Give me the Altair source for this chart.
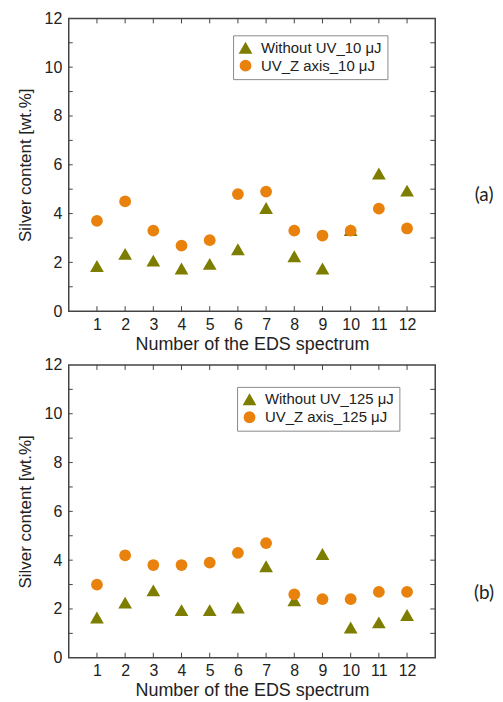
import altair as alt
import pandas as pd

spectra = list(range(1, 13))

# Panel (a)
a_without = [1.85, 2.35, 2.07, 1.75, 1.94, 2.54, 4.23, 2.25, 1.75, 3.32, 5.64, 4.94]
a_uv = [3.70, 4.50, 3.30, 2.69, 2.91, 4.80, 4.90, 3.30, 3.10, 3.30, 4.20, 3.39]
a_labels = ["Without UV_10 \u03bcJ", "UV_Z axis_10 \u03bcJ"]

# Panel (b)
b_without = [1.65, 2.26, 2.76, 1.95, 1.95, 2.06, 3.75, 2.35, 4.25, 1.24, 1.45, 1.75]
b_uv = [3.00, 4.20, 3.80, 3.80, 3.90, 4.30, 4.70, 2.60, 2.40, 2.40, 2.70, 2.70]
b_labels = ["Without UV_125 \u03bcJ", "UV_Z axis_125 \u03bcJ"]

y_major = [0, 2, 4, 6, 8, 10, 12]
y_ticks_all = [1, 2, 3, 4, 5, 6, 7, 8, 9, 10, 11]

OLIVE = "#7d7d00"
ORANGE = "#e8820c"
W, H = 368, 294
FONT = "Arial"
XT = "Number of the EDS spectrum"
YT = "Silver content [wt.%]"

X_AXIS = alt.Axis(values=spectra, grid=False, ticks=False, domain=False,
                  labelPadding=5, titlePadding=3, labelFlush=False,
                  labelOverlap=False, labelBound=False, titleFontSize=18)
Y_AXIS = alt.Axis(values=y_major, grid=False, ticks=False, domain=False,
                  labelPadding=7, titlePadding=10, labelFlush=False,
                  labelOverlap=False, titleFontSize=17)
X_SCALE = alt.Scale(domain=[0, 13], nice=False, zero=False)
Y_SCALE = alt.Scale(domain=[0, 12], nice=False)


def xq():
    return alt.X("spectrum:Q", title=XT, scale=X_SCALE, axis=X_AXIS)


def yq():
    return alt.Y("value:Q", title=YT, scale=Y_SCALE, axis=Y_AXIS)


def panel(without, uv, labels, tag, legend_x, legend_y, tag_y):
    df = pd.DataFrame({
        "spectrum": spectra + spectra,
        "value": without + uv,
        "series": [labels[0]] * 12 + [labels[1]] * 12,
    })
    leg = alt.Legend(title=None, orient="none", legendX=legend_x, legendY=legend_y,
                     strokeColor="#8a8a8a", padding=5, rowPadding=2,
                     labelFontSize=15, labelFont=FONT, labelColor="#222222",
                     symbolSize=150, symbolStrokeWidth=0, labelOffset=8,
                     fillColor="white")
    pts = alt.Chart(df).mark_point(filled=True, opacity=1).encode(
        x=xq(),
        y=yq(),
        shape=alt.Shape("series:N", scale=alt.Scale(domain=labels, range=["triangle-up", "circle"]), legend=leg, sort=labels),
        color=alt.Color("series:N", scale=alt.Scale(domain=labels, range=[OLIVE, ORANGE]), legend=leg, sort=labels),
        size=alt.Size("series:N", scale=alt.Scale(domain=labels, range=[190, 140]), legend=None, sort=labels),
    )

    ydf = pd.DataFrame({"value": y_ticks_all})
    xdf = pd.DataFrame({"spectrum": spectra})
    rule_style = dict(color="#444444", strokeWidth=1)
    left = alt.Chart(ydf).mark_rule(**rule_style).encode(
        y=yq(), x=alt.value(0), x2=alt.value(4))
    right = alt.Chart(ydf).mark_rule(**rule_style).encode(
        y=yq(), x=alt.value(W), x2=alt.value(W - 5))
    top = alt.Chart(xdf).mark_rule(**rule_style).encode(
        x=xq(), y=alt.value(0), y2=alt.value(5))
    bottom = alt.Chart(xdf).mark_rule(**rule_style).encode(
        x=xq(), y=alt.value(H), y2=alt.value(H - 5))

    tdf = pd.DataFrame({"tag": [tag]})
    tagtxt = alt.Chart(tdf).mark_text(font="Lato", fontSize=19, color="#222222",
                                      align="center", baseline="middle").encode(
        text="tag:N", x=alt.value(417), y=alt.value(tag_y))

    return alt.layer(pts, left, right, top, bottom, tagtxt).properties(width=W, height=H)


pa = panel(a_without, a_uv, a_labels, "(a)", 165, 17, 177)
pb = panel(b_without, b_uv, b_labels, "(b)", 169, 22, 229)

chart = alt.vconcat(pa, pb, spacing=2).resolve_scale(
    color="independent", shape="independent", size="independent"
).resolve_legend(color="independent", shape="independent").properties(
    padding={"left": 7, "top": 0, "right": 0, "bottom": 0}
).configure_view(
    stroke="#444444", strokeWidth=1.5
).configure_axis(
    labelFont=FONT, titleFont=FONT, labelFontSize=16,
    labelColor="#222222", titleColor="#222222", titleFontWeight="normal",
    labelOverlap=False
)

chart.save("out.html", embed_options={"renderer": "svg", "actions": False})
